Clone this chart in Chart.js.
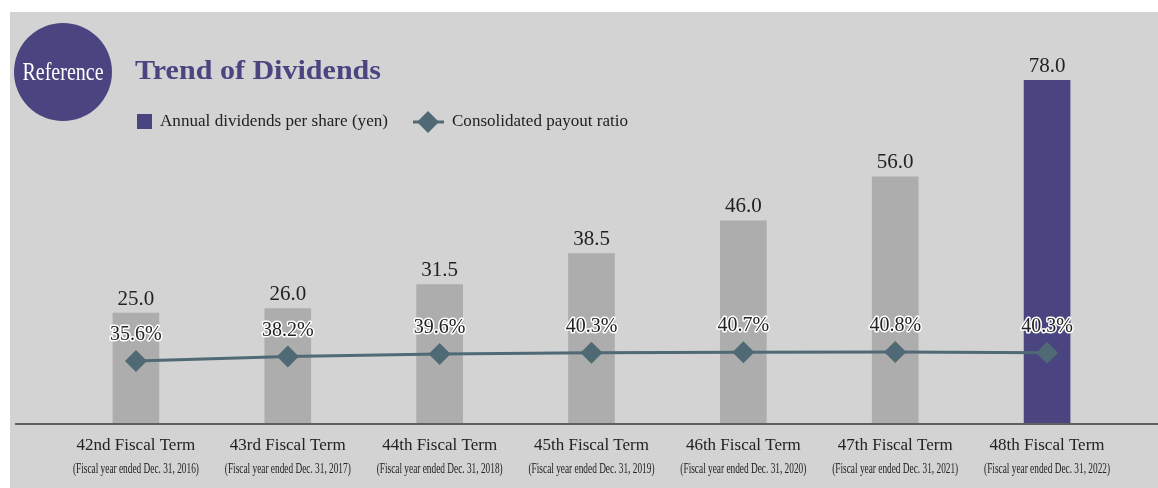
<!DOCTYPE html>
<html>
<head>
<meta charset="utf-8">
<script src="https://cdn.jsdelivr.net/npm/chart.js@4.4.0/dist/chart.umd.min.js"></script>
<style>
  html, body { margin: 0; padding: 0; background: #fff; }
  #wrap { width: 1158px; height: 488px; }
</style>
</head>
<body>
<div id="wrap"><canvas id="divChart" width="1158" height="488"></canvas></div>
<script>
// data
const terms = ['42nd Fiscal Term', '43rd Fiscal Term', '44th Fiscal Term', '45th Fiscal Term', '46th Fiscal Term', '47th Fiscal Term', '48th Fiscal Term'];
const fiscalYears = ['(Fiscal year ended Dec. 31, 2016)', '(Fiscal year ended Dec. 31, 2017)', '(Fiscal year ended Dec. 31, 2018)', '(Fiscal year ended Dec. 31, 2019)', '(Fiscal year ended Dec. 31, 2020)', '(Fiscal year ended Dec. 31, 2021)', '(Fiscal year ended Dec. 31, 2022)'];
const dividends = [25.0, 26.0, 31.5, 38.5, 46.0, 56.0, 78.0];
const payoutRatio = [35.6, 38.2, 39.6, 40.3, 40.7, 40.8, 40.3];

const purple = '#4a4580';
const grayBar = '#adadad';
const slate = '#506a75';
const serif = '"Liberation Serif", "Times New Roman", serif';

const barColors = dividends.map((d, i) => i === dividends.length - 1 ? purple : grayBar);

// draw text scaled horizontally to a given width (the original type is condensed / wider in places)
function fitText(ctx, text, x, y, width) {
  const w = ctx.measureText(text).width;
  const s = width / w;
  ctx.save();
  ctx.translate(x, y);
  ctx.scale(s, 1);
  ctx.fillText(text, 0, 0);
  ctx.restore();
}

const decorPlugin = {
  id: 'decor',
  beforeDraw(chart) {
    const ctx = chart.ctx;
    ctx.save();
    ctx.fillStyle = '#ffffff';
    ctx.fillRect(0, 0, chart.width, chart.height);
    ctx.fillStyle = '#d3d3d3';
    ctx.fillRect(10, 12, chart.width - 10, chart.height - 12);

    // reference badge
    ctx.fillStyle = purple;
    ctx.beginPath();
    ctx.arc(63, 72, 49, 0, Math.PI * 2);
    ctx.fill();
    ctx.fillStyle = '#ffffff';
    ctx.font = '25px ' + serif;
    ctx.textAlign = 'center';
    ctx.textBaseline = 'middle';
    fitText(ctx, 'Reference', 63, 73, 81);

    // title
    ctx.fillStyle = purple;
    ctx.font = 'bold 27px ' + serif;
    ctx.textAlign = 'left';
    fitText(ctx, 'Trend of Dividends', 135, 72, 246);

    // legend
    ctx.fillStyle = purple;
    ctx.fillRect(137, 114, 15, 15);
    ctx.fillStyle = '#222';
    ctx.font = '16px ' + serif;
    fitText(ctx, 'Annual dividends per share (yen)', 160, 122, 228);

    ctx.strokeStyle = slate;
    ctx.lineWidth = 3;
    ctx.beginPath();
    ctx.moveTo(413, 122);
    ctx.lineTo(444, 122);
    ctx.stroke();
    ctx.fillStyle = slate;
    ctx.beginPath();
    ctx.moveTo(428, 111);
    ctx.lineTo(439, 122);
    ctx.lineTo(428, 133);
    ctx.lineTo(417, 122);
    ctx.closePath();
    ctx.fill();
    ctx.fillStyle = '#222';
    fitText(ctx, 'Consolidated payout ratio', 452, 122, 176);
    ctx.restore();
  },
  afterDatasetsDraw(chart) {
    const ctx = chart.ctx;
    const xScale = chart.scales.x;
    ctx.save();

    // baseline
    ctx.strokeStyle = '#5f5f5f';
    ctx.lineWidth = 2;
    ctx.beginPath();
    ctx.moveTo(15, chart.chartArea.bottom + 1);
    ctx.lineTo(chart.width, chart.chartArea.bottom + 1);
    ctx.stroke();

    // category labels
    ctx.textAlign = 'center';
    ctx.textBaseline = 'middle';
    ctx.fillStyle = '#222';
    terms.forEach((t, i) => {
      const x = xScale.getPixelForTick(i);
      ctx.font = '17px ' + serif;
      ctx.fillText(t, x, 446);
      ctx.font = '14px ' + serif;
      fitText(ctx, fiscalYears[i], x, 469, 126);
    });

    // bar value labels
    const barMeta = chart.getDatasetMeta(0);
    ctx.font = '21px ' + serif;
    ctx.fillStyle = '#222';
    barMeta.data.forEach((bar, i) => {
      ctx.fillText(dividends[i].toFixed(1), bar.x, bar.y - 14);
    });

    // ratio labels with white outline
    const lineMeta = chart.getDatasetMeta(1);
    ctx.font = '20px ' + serif;
    ctx.lineJoin = 'round';
    lineMeta.data.forEach((pt, i) => {
      const txt = payoutRatio[i].toFixed(1) + '%';
      ctx.strokeStyle = '#ffffff';
      ctx.lineWidth = 3;
      ctx.strokeText(txt, pt.x, pt.y - 26);
      ctx.fillStyle = '#222';
      ctx.fillText(txt, pt.x, pt.y - 26);
    });
    ctx.restore();
  }
};

new Chart(document.getElementById('divChart'), {
  type: 'bar',
  data: {
    labels: terms,
    datasets: [{
      type: 'bar',
      label: 'Annual dividends per share (yen)',
      data: dividends,
      backgroundColor: barColors,
      barThickness: 46,
      yAxisID: 'y',
      order: 2
    }, {
      type: 'line',
      label: 'Consolidated payout ratio',
      data: payoutRatio,
      borderColor: slate,
      borderWidth: 3,
      pointStyle: 'rectRot',
      pointRadius: 11,
      pointBackgroundColor: slate,
      pointBorderColor: slate,
      pointBorderWidth: 0,
      tension: 0,
      yAxisID: 'y2',
      order: 1
    }]
  },
  options: {
    responsive: false,
    animation: false,
    devicePixelRatio: 1,
    layout: { padding: { top: 80, bottom: 65, left: 60, right: 35 } },
    plugins: {
      legend: { display: false },
      tooltip: { enabled: false }
    },
    scales: {
      x: { display: false, offset: true },
      y: { display: false, min: 0, max: 78 },
      y2: { display: false, min: 0, max: 197 }
    }
  },
  plugins: [decorPlugin]
});
</script>
</body>
</html>
